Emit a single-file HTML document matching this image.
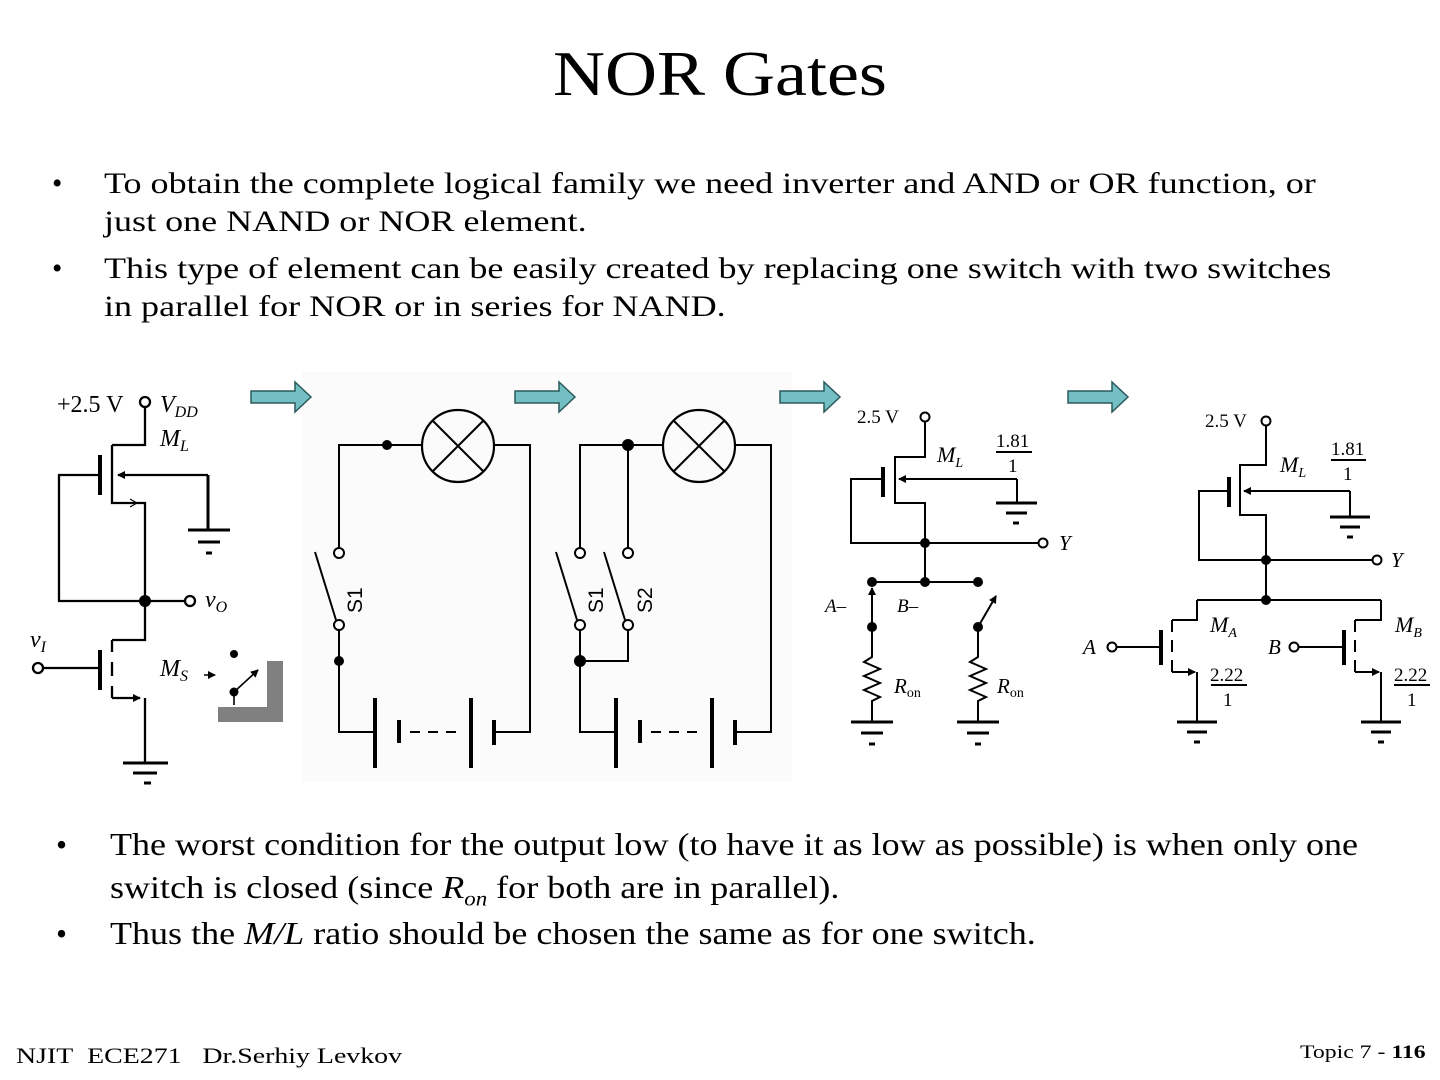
<!DOCTYPE html>
<html><head><meta charset="utf-8"><style>
body{margin:0;width:1440px;height:1080px;background:#fff;position:relative;overflow:hidden;font-family:"Liberation Serif",serif;color:#000}
.t{position:absolute;white-space:nowrap;transform-origin:0 0}
svg{position:absolute;left:0;top:0}
</style></head><body>
<div class="t" style="left:553px;top:36px;font-size:64px;line-height:76px;transform:scaleX(1.125)">NOR Gates</div>
<div class="t" style="left:52px;top:165px;font-size:29.5px;line-height:38px">•</div>
<div class="t" style="left:104px;top:165px;font-size:29.5px;line-height:38px;transform:scaleX(1.222)">To obtain the complete logical family we need inverter and AND or OR function, or<br>just one NAND or NOR element.</div>
<div class="t" style="left:52px;top:250px;font-size:29.5px;line-height:38px">•</div>
<div class="t" style="left:104px;top:250px;font-size:29.5px;line-height:38px;transform:scaleX(1.222)">This type of element can be easily created by replacing one switch with two switches<br>in parallel for NOR or in series for NAND.</div>
<div class="t" style="left:56px;top:823px;font-size:31.5px;line-height:43px">•</div>
<div class="t" style="left:110px;top:823px;font-size:31.5px;line-height:43px;transform:scaleX(1.144)">The worst condition for the output low (to have it as low as possible) is when only one<br>switch is closed (since <i>R<sub style="font-size:20px">on</sub></i> for both are in parallel).</div>
<div class="t" style="left:56px;top:912px;font-size:31.5px;line-height:43px">•</div>
<div class="t" style="left:110px;top:912px;font-size:31.5px;line-height:43px;transform:scaleX(1.144)">Thus the <i>M/L</i> ratio should be chosen the same as for one switch.</div>
<div class="t" style="left:16px;top:1043px;font-size:22px;transform:scaleX(1.266)">NJIT&nbsp; ECE271 &nbsp; Dr.Serhiy Levkov</div>
<div class="t" style="left:1300px;top:1042px;font-size:19px;transform:scaleX(1.25)">Topic 7 - <b>116</b></div>

<svg width="1440" height="1080" viewBox="0 0 1440 1080" font-family="Liberation Serif, serif">
<rect x="302" y="372" width="490" height="410" fill="#fbfbfb"/>
<defs><marker id="ah" markerWidth="8" markerHeight="8" refX="7" refY="4" orient="auto" markerUnits="userSpaceOnUse"><path d="M0,0 L8,4 L0,8z" fill="#000"/></marker></defs>
<g fill="#74bfc4" stroke="#2b5a5c" stroke-width="1.5">
<path d="M251,391 h44 v-9 l16,15 l-16,15 v-9 h-44z"/>
<path d="M515,391 h44 v-9 l16,15 l-16,15 v-9 h-44z"/>
<path d="M780,391 h44 v-9 l16,15 l-16,15 v-9 h-44z"/>
<path d="M1068,391 h44 v-9 l16,15 l-16,15 v-9 h-44z"/>
</g>
<g stroke="#000" stroke-width="2.3" fill="none">
<circle cx="145" cy="402" r="5"/>
<path d="M145,407 V445 H112 M112,445 V503 H145 V640 H112 M145,601 H185 M100,475 H59 V601 H145"/>
<path d="M100,455 V495" stroke-width="4"/>
<path d="M208,475 V530 M188,530 H230 M198,542 H220 M206,553 H212" stroke-width="3"/>
<path d="M208,475 H118" marker-end="url(#ah)"/>
<path d="M122,503 H136" stroke-width="1.2"/><path d="M130,499 L137,503 L130,507" stroke-width="1.2"/>
<circle cx="190" cy="601" r="5"/>
<path d="M112,640 V652 M112,662 V676 M112,686 V698" />
<path d="M100,650 V690" stroke-width="4"/>
<circle cx="38" cy="668" r="5"/><path d="M43,668 H100"/>
<path d="M112,698 H140" marker-end="url(#ah)"/>
<path d="M145,698 V763" /><path d="M123,763 H168 M133,773 H157 M144,783 H151" stroke-width="3"/>
<path d="M234,692 L258,670" marker-end="url(#ah)" stroke-width="1.6"/>
<path d="M234,692 V705" stroke-width="1.6"/>
<path d="M204,675 H215" marker-end="url(#ah)" stroke-width="1.5"/>
<path d="M339,548 V445 H422 M494,445 H530 V732 H494 M339,630 V732 H375 M315,552 L336,620" stroke-width="2"/>
<circle cx="458" cy="446" r="36" stroke-width="2.2"/>
<path d="M433,421 L483,471 M483,421 L433,471" stroke-width="2"/>
<circle cx="339" cy="553" r="5" fill="#fff" stroke-width="2"/><circle cx="339" cy="625" r="5" fill="#fff" stroke-width="2"/>
<path d="M375,698 V768 M471,698 V768" stroke-width="4"/>
<path d="M399,720 V743 M494,720 V745" stroke-width="4"/>
<path d="M410,732 H458" stroke-dasharray="10,8" stroke-width="2"/>
<path d="M580,548 V445 H663 M735,445 H771 V732 H735 M580,630 V732 H616 M628,445 V548 M628,630 V661 H580 M556,552 L577,620 M604,552 L625,620" stroke-width="2"/>
<circle cx="699" cy="446" r="36" stroke-width="2.2"/>
<path d="M674,421 L724,471 M724,421 L674,471" stroke-width="2"/>
<circle cx="580" cy="553" r="5" fill="#fff" stroke-width="2"/><circle cx="580" cy="625" r="5" fill="#fff" stroke-width="2"/>
<circle cx="628" cy="553" r="5" fill="#fff" stroke-width="2"/><circle cx="628" cy="625" r="5" fill="#fff" stroke-width="2"/>
<path d="M616,698 V768 M712,698 V768" stroke-width="4"/>
<path d="M640,720 V743 M735,720 V745" stroke-width="4"/>
<path d="M651,732 H699" stroke-dasharray="10,8" stroke-width="2"/>
<g stroke-width="2">
<circle cx="925" cy="417" r="4.5"/>
<path d="M925,422 V457 H895 V503 H925 V582 M883,479 H851 V543 H1038 M872,582 H978 M1017,479 V503"/>
<path d="M996,503 H1037 M1006,513 H1027 M1013,523 H1019" stroke-width="3"/>
<path d="M883,467 V497" stroke-width="4"/>
<path d="M1017,479 H899" marker-end="url(#ah)"/>
<circle cx="1043" cy="543" r="4.5"/>
<path d="M872,627 V588" marker-end="url(#ah)"/>
<path d="M978,627 L996,596" marker-end="url(#ah)"/>
<path d="M872,627 V657 l-8,5 l16,7 l-16,7 l16,7 l-16,7 l16,7 l-8,4 V722"/>
<path d="M851,722 H893 M861,733 H883 M869,744 H875" stroke-width="3"/>
<path d="M978,627 V657 l-8,5 l16,7 l-16,7 l16,7 l-16,7 l16,7 l-8,4 V722"/>
<path d="M957,722 H999 M967,733 H989 M975,744 H981" stroke-width="3"/>
<path d="M996,452 H1032"/>
</g>
<g stroke-width="2">
<circle cx="1266" cy="421" r="4.5"/>
<path d="M1266,426 V465 H1240 V515 H1266 V600 M1229,491 H1199 V560 H1372 M1197,600 H1381 M1350,491 V517"/>
<path d="M1330,517 H1370 M1340,527 H1360 M1347,537 H1353" stroke-width="3"/>
<path d="M1229,477 V507" stroke-width="4"/>
<path d="M1350,491 H1244" marker-end="url(#ah)"/>
<circle cx="1377" cy="560" r="4.5"/>
<path d="M1197,600 V620 H1172 M1172,620 V632 M1172,640 V652 M1172,660 V672"/>
<path d="M1161,630 V665" stroke-width="4"/>
<circle cx="1112" cy="647" r="4.5"/><path d="M1117,647 H1161"/>
<path d="M1172,672 H1195" marker-end="url(#ah)"/>
<path d="M1197,672 V722"/><path d="M1177,722 H1217 M1187,732 H1207 M1194,742 H1200" stroke-width="3"/>
<path d="M1381,600 V620 H1355 M1355,620 V632 M1355,640 V652 M1355,660 V672"/>
<path d="M1344,630 V665" stroke-width="4"/>
<circle cx="1294" cy="647" r="4.5"/><path d="M1299,647 H1344"/>
<path d="M1355,672 H1379" marker-end="url(#ah)"/>
<path d="M1381,672 V722"/><path d="M1361,722 H1401 M1371,732 H1391 M1378,742 H1384" stroke-width="3"/>
<path d="M1331,460 H1366 M1211,685 H1247 M1394,685 H1430"/>
</g>
</g>
<g fill="#000">
<circle cx="145" cy="601" r="6"/>
<circle cx="234" cy="654" r="4"/><circle cx="234" cy="692" r="4.5"/>
<circle cx="387" cy="445" r="5"/><circle cx="339" cy="661" r="5"/>
<circle cx="628" cy="445" r="6"/><circle cx="580" cy="661" r="6"/>
<circle cx="925" cy="543" r="5"/><circle cx="872" cy="582" r="5"/><circle cx="925" cy="582" r="5"/><circle cx="978" cy="582" r="5"/>
<circle cx="872" cy="627" r="5"/><circle cx="978" cy="627" r="5"/>
<circle cx="1266" cy="560" r="5"/><circle cx="1266" cy="600" r="5"/>
</g>
<path d="M267,661 H283 V722 H218 V707 H267z" fill="#808080"/>
<g font-size="24">
<text x="57" y="412">+2.5 V</text>
<text x="160" y="412" font-style="italic">V<tspan font-size="16" dy="5">DD</tspan></text>
<text x="160" y="446" font-style="italic">M<tspan font-size="16" dy="5">L</tspan></text>
<text x="205" y="607" font-style="italic">v<tspan font-size="16" dy="5">O</tspan></text>
<text x="30" y="647" font-style="italic">v<tspan font-size="16" dy="5">I</tspan></text>
<text x="160" y="676" font-style="italic">M<tspan font-size="16" dy="5">S</tspan></text>
</g>
<g font-family="Liberation Sans, sans-serif" font-size="21">
<text transform="translate(362,613) rotate(-90)">S1</text>
<text transform="translate(603,613) rotate(-90)">S1</text>
<text transform="translate(652,613) rotate(-90)">S2</text>
</g>
<g font-size="19">
<text x="857" y="423">2.5 V</text>
<text x="937" y="462" font-style="italic" font-size="22">M<tspan font-size="14" dy="5">L</tspan></text>
<text x="996" y="447">1.81</text><text x="1008" y="472">1</text>
<text x="1059" y="550" font-style="italic" font-size="21">Y</text>
<text x="825" y="612" font-style="italic">A–</text>
<text x="897" y="612" font-style="italic">B–</text>
<text x="894" y="693" font-style="italic" font-size="21">R<tspan font-style="normal" font-size="14" dy="4">on</tspan></text>
<text x="997" y="693" font-style="italic" font-size="21">R<tspan font-style="normal" font-size="14" dy="4">on</tspan></text>
<text x="1205" y="427">2.5 V</text>
<text x="1280" y="472" font-style="italic" font-size="22">M<tspan font-size="14" dy="5">L</tspan></text>
<text x="1331" y="455">1.81</text><text x="1343" y="480">1</text>
<text x="1391" y="567" font-style="italic" font-size="21">Y</text>
<text x="1210" y="632" font-style="italic" font-size="22">M<tspan font-size="14" dy="5">A</tspan></text>
<text x="1395" y="632" font-style="italic" font-size="22">M<tspan font-size="14" dy="5">B</tspan></text>
<text x="1083" y="654" font-style="italic" font-size="21">A</text>
<text x="1268" y="654" font-style="italic" font-size="21">B</text>
<text x="1210" y="681">2.22</text><text x="1223" y="706">1</text>
<text x="1394" y="681">2.22</text><text x="1407" y="706">1</text>
</g>
</svg>
</body></html>
